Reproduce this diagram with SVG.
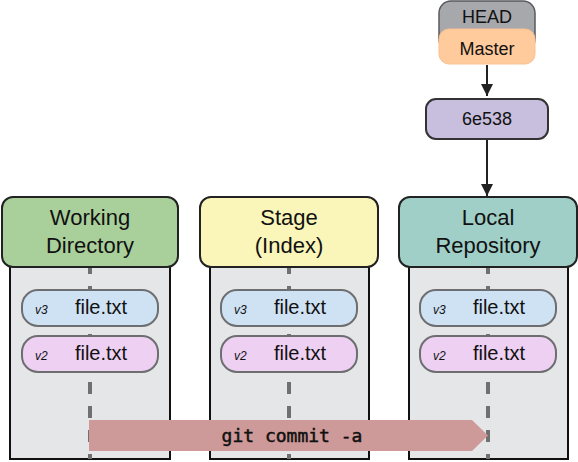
<svg xmlns="http://www.w3.org/2000/svg" width="578" height="462" viewBox="0 0 578 462">
<style>
.body{fill:#E5E6E8;stroke:#111;stroke-width:2}
.hdr{stroke:#222;stroke-width:2}
.dash{stroke:#707070;stroke-width:4;stroke-dasharray:12 12;fill:none}
.pill{stroke:#6D6E70;stroke-width:2}
.t{font-family:"Liberation Sans",Arial,sans-serif;fill:#111;text-anchor:middle}
.h{font-size:22px}
.f{font-size:20px}
.v{font-size:12px;font-style:italic;text-anchor:start}
.conn{stroke:#222;stroke-width:2;fill:none}
</style>
<defs>
<marker id="ah" viewBox="0 0 12 12" refX="12" refY="6" markerWidth="12" markerHeight="12" markerUnits="userSpaceOnUse" orient="auto">
<path d="M0,0 L12,6 L0,12 Z" fill="#222"/>
</marker>
</defs>

<g id="working-directory">
<rect class="body" x="10" y="250" width="160" height="209"/>
<line class="dash" x1="90" y1="262" x2="90" y2="459"/>
<rect class="hdr" x="2" y="197" width="176" height="70" rx="11" fill="#A9D09B"/>
<text class="t h" x="90" y="225">Working</text>
<text class="t h" x="90" y="253">Directory</text>
<rect class="pill" x="22" y="290" width="136" height="36" rx="16" fill="#CFE2F4"/>
<text class="t v" x="35" y="314">v3</text>
<text class="t f" x="101" y="314">file.txt</text>
<rect class="pill" x="22" y="336" width="136" height="36" rx="16" fill="#EDD0F2"/>
<text class="t v" x="35" y="360">v2</text>
<text class="t f" x="101" y="360">file.txt</text>
</g>

<g id="stage">
<rect class="body" x="210" y="250" width="159" height="209"/>
<line class="dash" x1="289" y1="262" x2="289" y2="459"/>
<rect class="hdr" x="200" y="197" width="178" height="70" rx="11" fill="#FAF6B9"/>
<text class="t h" x="289" y="225">Stage</text>
<text class="t h" x="289" y="253">(Index)</text>
<rect class="pill" x="221" y="290" width="136" height="36" rx="16" fill="#CFE2F4"/>
<text class="t v" x="234" y="314">v3</text>
<text class="t f" x="300" y="314">file.txt</text>
<rect class="pill" x="221" y="336" width="136" height="36" rx="16" fill="#EDD0F2"/>
<text class="t v" x="234" y="360">v2</text>
<text class="t f" x="300" y="360">file.txt</text>
</g>

<g id="local-repository">
<rect class="body" x="409" y="250" width="159" height="209"/>
<line class="dash" x1="488" y1="262" x2="488" y2="459"/>
<rect class="hdr" x="399" y="197" width="178" height="70" rx="11" fill="#A0CFC8"/>
<text class="t h" x="488" y="225">Local</text>
<text class="t h" x="488" y="253">Repository</text>
<rect class="pill" x="420" y="290" width="136" height="36" rx="16" fill="#CFE2F4"/>
<text class="t v" x="433" y="314">v3</text>
<text class="t f" x="499" y="314">file.txt</text>
<rect class="pill" x="420" y="336" width="136" height="36" rx="16" fill="#EDD0F2"/>
<text class="t v" x="433" y="360">v2</text>
<text class="t f" x="499" y="360">file.txt</text>
</g>

<g id="head">
<rect x="439" y="1" width="96" height="50" rx="12" fill="#A7A8AB" stroke="#58595B" stroke-width="1.5"/>
<text class="t" x="487" y="23" font-size="18">HEAD</text>
</g>

<g id="master">
<rect x="439" y="29" width="96" height="35" rx="10" fill="#FFCB9C" stroke="#F9C190" stroke-width="1"/>
<text class="t" x="487" y="55" font-size="18">Master</text>
</g>

<g id="commit-6e538">
<rect x="426" y="99" width="122" height="40" rx="10" fill="#C8BEDD" stroke="#333" stroke-width="2"/>
<text class="t" x="487" y="125" font-size="18">6e538</text>
</g>

<g id="connectors">
<line class="conn" x1="487" y1="65" x2="487" y2="96" marker-end="url(#ah)"/>
<line class="conn" x1="487" y1="140" x2="487" y2="196" marker-end="url(#ah)"/>
<g id="git-commit-arrow">
<polygon points="89,420 472,420 488,435.5 472,451 89,451" fill="#CE9A99"/>
<text x="292" y="442" font-family="'DejaVu Sans Mono','Liberation Mono',monospace" font-size="18" text-anchor="middle" fill="#111" stroke="#111" stroke-width="0.5">git commit -a</text>
</g>
</g>
</svg>
